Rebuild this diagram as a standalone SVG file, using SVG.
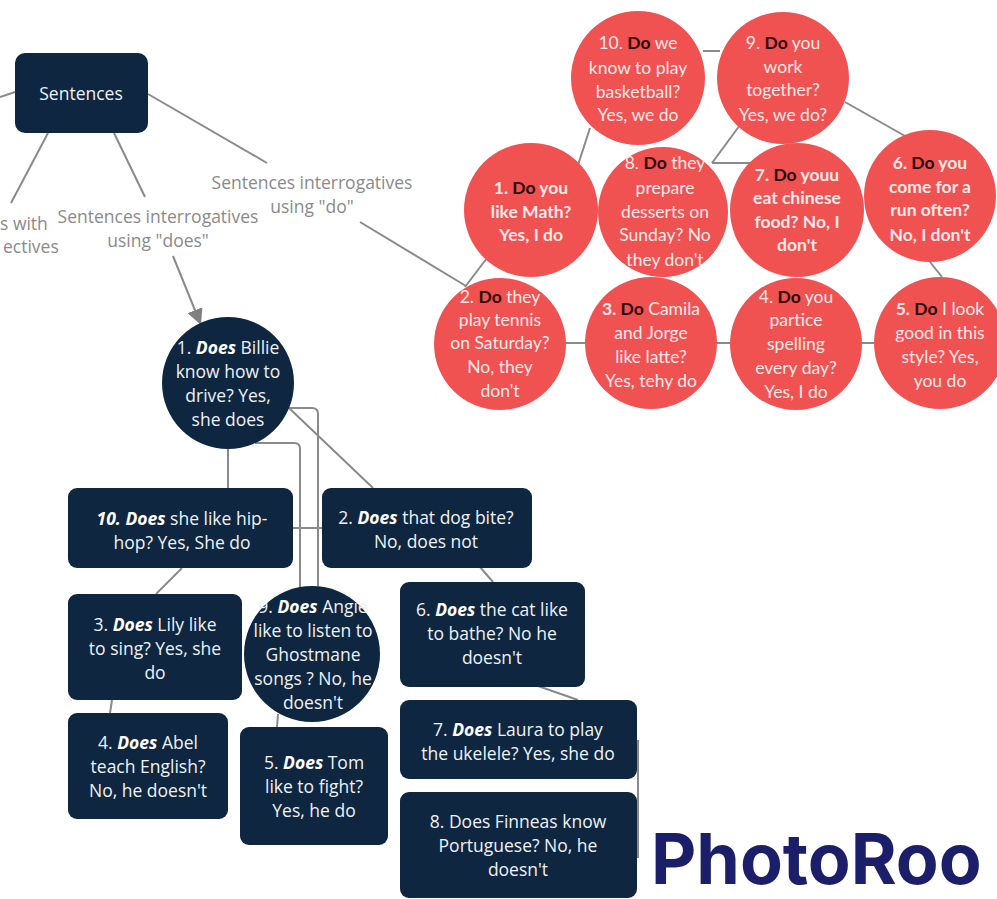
<svg xmlns="http://www.w3.org/2000/svg" width="997" height="899" viewBox="0 0 997 899">
<defs>
<marker id="arr" markerUnits="userSpaceOnUse" markerWidth="18" markerHeight="16" refX="16" refY="8" orient="auto">
<path d="M0,0 L16,8 L0,16 Z" fill="#808080"/>
</marker>
<style>
.c{stroke:#8a8a8a;stroke-width:2;fill:none}
.dk{fill:#0e2640}
.rd{fill:#f05252}
.dt{font-family:"Open Sans","Liberation Sans",sans-serif;font-size:17.5px;fill:#eef2f6;text-anchor:middle}
.rt{font-family:Lato,"Liberation Sans",sans-serif;font-size:17.5px;fill:#fde8e8;text-anchor:middle}
.gl{font-family:"Open Sans","Liberation Sans",sans-serif;font-size:17.5px;fill:#8a8a8a;text-anchor:middle}
.bi{font-weight:bold;font-style:italic;fill:#ffffff}
.b{font-weight:bold}
.do{font-weight:bold;fill:#2a0606}
</style>
</defs>
<rect width="997" height="899" fill="#ffffff"/>
<g id="connectors">
<line class="c" x1="15" y1="92" x2="0" y2="97"/>
<line class="c" x1="48" y1="133" x2="11" y2="203"/>
<line class="c" x1="114" y1="133" x2="145" y2="197"/>
<line class="c" x1="148" y1="94" x2="267" y2="163"/>
<line class="c" x1="360" y1="222" x2="466" y2="286"/>
<line class="c" x1="173" y1="256" x2="201" y2="325" marker-end="url(#arr)"/>
<line class="c" x1="703" y1="51" x2="720" y2="51"/>
<line class="c" x1="590" y1="128" x2="578" y2="165"/>
<line class="c" x1="845" y1="102" x2="905" y2="136"/>
<line class="c" x1="740" y1="125" x2="712" y2="163"/>
<line class="c" x1="712" y1="163" x2="755" y2="163"/>
<line class="c" x1="487" y1="258" x2="465" y2="287"/>
<line class="c" x1="560" y1="343" x2="588" y2="343"/>
<line class="c" x1="714" y1="343" x2="733" y2="343"/>
<line class="c" x1="859" y1="343" x2="877" y2="343"/>
<line class="c" x1="930" y1="262" x2="942" y2="277"/>
<line class="c" x1="228" y1="449" x2="228" y2="488"/>
<path class="c" d="M255,443 H294 Q300,443 300,449 V588"/>
<path class="c" d="M289,408 H312 Q318,408 318,414 V586"/>
<line class="c" x1="289" y1="408" x2="373" y2="488"/>
<line class="c" x1="293" y1="528" x2="322" y2="528"/>
<line class="c" x1="182" y1="568" x2="156" y2="594"/>
<line class="c" x1="112" y1="700" x2="110" y2="713"/>
<line class="c" x1="278" y1="714" x2="277" y2="727"/>
<line class="c" x1="480" y1="567" x2="493" y2="582"/>
<line class="c" x1="538" y1="686" x2="578" y2="700"/>
<line class="c" x1="638" y1="740" x2="638" y2="858"/>
</g>
<g id="labels">
<text class="gl" x="312" y="189">Sentences interrogatives</text>
<text class="gl" x="312" y="213">using "do"</text>
<text class="gl" x="158" y="223">Sentences interrogatives</text>
<text class="gl" x="158" y="247">using "does"</text>
<text class="gl" x="0" y="230" style="text-anchor:start">s with</text>
<text class="gl" x="3" y="253" style="text-anchor:start">ectives</text>
</g>
<g id="n-sentences">
<rect class="dk" x="15" y="53" width="133" height="80" rx="10"/>
<text class="dt" x="81" y="100">Sentences</text>
</g>
<g id="r10"><circle class="rd" cx="638" cy="78" r="67"/>
<text class="rt" x="638" y="49">10. <tspan class="do">Do</tspan> we</text>
<text class="rt" x="638" y="74">know to play</text>
<text class="rt" x="638" y="98">basketball?</text>
<text class="rt" x="638" y="121">Yes, we do</text></g>
<g id="r9"><circle class="rd" cx="783" cy="78" r="66"/>
<text class="rt" x="783" y="49">9. <tspan class="do">Do</tspan> you</text>
<text class="rt" x="783" y="73">work</text>
<text class="rt" x="783" y="96">together?</text>
<text class="rt" x="783" y="121">Yes, we do?</text></g>
<g id="r1"><circle class="rd" cx="531" cy="210" r="67"/>
<text class="rt b" x="531" y="194">1. <tspan class="do">Do</tspan> you</text>
<text class="rt b" x="531" y="218">like Math?</text>
<text class="rt b" x="531" y="241">Yes, I do</text></g>
<g id="r8"><circle class="rd" cx="663" cy="212" r="65"/>
<text class="rt" x="665" y="169">8. <tspan class="do">Do</tspan> they</text>
<text class="rt" x="665" y="194">prepare</text>
<text class="rt" x="665" y="218">desserts on</text>
<text class="rt" x="665" y="241">Sunday? No</text>
<text class="rt" x="665" y="266">they don't</text></g>
<g id="r7"><circle class="rd" cx="797" cy="210" r="67"/>
<text class="rt b" x="797" y="181">7. <tspan class="do">Do</tspan> youu</text>
<text class="rt b" x="797" y="204">eat chinese</text>
<text class="rt b" x="797" y="228">food? No, I</text>
<text class="rt b" x="797" y="251">don't</text></g>
<g id="r6"><circle class="rd" cx="930" cy="196" r="66"/>
<text class="rt b" x="930" y="169">6. <tspan class="do">Do</tspan> you</text>
<text class="rt b" x="930" y="193">come for a</text>
<text class="rt b" x="930" y="216">run often?</text>
<text class="rt b" x="930" y="241">No, I don't</text></g>
<g id="r2"><circle class="rd" cx="500" cy="344" r="66"/>
<text class="rt" x="500" y="303">2. <tspan class="do">Do</tspan> they</text>
<text class="rt" x="500" y="326">play tennis</text>
<text class="rt" x="500" y="349">on Saturday?</text>
<text class="rt" x="500" y="373">No, they</text>
<text class="rt" x="500" y="397">don't</text></g>
<g id="r3"><circle class="rd" cx="651" cy="343" r="66"/>
<text class="rt" x="651" y="315"><tspan class="b">3. </tspan><tspan class="do">Do</tspan> Camila</text>
<text class="rt" x="651" y="339">and Jorge</text>
<text class="rt" x="651" y="363">like latte?</text>
<text class="rt" x="651" y="387">Yes, tehy do</text></g>
<g id="r4"><circle class="rd" cx="796" cy="344" r="66"/>
<text class="rt" x="796" y="303">4. <tspan class="do">Do</tspan> you</text>
<text class="rt" x="796" y="326">partice</text>
<text class="rt" x="796" y="350">spelling</text>
<text class="rt" x="796" y="374">every day?</text>
<text class="rt" x="796" y="398">Yes, I do</text></g>
<g id="r5"><circle class="rd" cx="940" cy="343" r="66"/>
<text class="rt" x="940" y="315"><tspan class="b">5. </tspan><tspan class="do">Do</tspan> I look</text>
<text class="rt" x="940" y="339">good in this</text>
<text class="rt" x="940" y="363">style? Yes,</text>
<text class="rt" x="940" y="387">you do</text></g>
<g id="d1"><circle class="dk" cx="228" cy="383" r="66"/>
<text class="dt" x="228" y="354">1. <tspan class="bi">Does</tspan> Billie</text>
<text class="dt" x="228" y="378">know how to</text>
<text class="dt" x="228" y="402">drive? Yes,</text>
<text class="dt" x="228" y="426">she does</text></g>
<g id="d10"><rect class="dk" x="68" y="488" width="225" height="80" rx="9"/>
<text class="dt" x="182" y="525"><tspan class="bi">10. Does</tspan> she like hip-</text>
<text class="dt" x="182" y="549">hop? Yes, She do</text></g>
<g id="d2"><rect class="dk" x="322" y="488" width="210" height="80" rx="9"/>
<text class="dt" x="426" y="524">2. <tspan class="bi">Does</tspan> that dog bite?</text>
<text class="dt" x="426" y="548">No, does not</text></g>
<g id="d6"><rect class="dk" x="400" y="582" width="185" height="105" rx="9"/>
<text class="dt" x="492" y="616">6. <tspan class="bi">Does</tspan> the cat like</text>
<text class="dt" x="492" y="640">to bathe? No he</text>
<text class="dt" x="492" y="664">doesn't</text></g>
<g id="d3"><rect class="dk" x="68" y="594" width="174" height="106" rx="9"/>
<text class="dt" x="155" y="631">3. <tspan class="bi">Does</tspan> Lily like</text>
<text class="dt" x="155" y="655">to sing? Yes, she</text>
<text class="dt" x="155" y="679">do</text></g>
<g id="d9"><circle class="dk" cx="312" cy="654" r="68"/>
<text class="dt" x="313" y="613">9. <tspan class="bi">Does</tspan> Angie</text>
<text class="dt" x="313" y="637">like to listen to</text>
<text class="dt" x="313" y="661">Ghostmane</text>
<text class="dt" x="313" y="685">songs ? No, he</text>
<text class="dt" x="313" y="709">doesn't</text></g>
<g id="d4"><rect class="dk" x="68" y="713" width="160" height="106" rx="9"/>
<text class="dt" x="148" y="749">4. <tspan class="bi">Does</tspan> Abel</text>
<text class="dt" x="148" y="773">teach English?</text>
<text class="dt" x="148" y="797">No, he doesn't</text></g>
<g id="d5"><rect class="dk" x="240" y="727" width="148" height="118" rx="9"/>
<text class="dt" x="314" y="769">5. <tspan class="bi">Does</tspan> Tom</text>
<text class="dt" x="314" y="793">like to fight?</text>
<text class="dt" x="314" y="817">Yes, he do</text></g>
<g id="d7"><rect class="dk" x="400" y="700" width="237" height="79" rx="9"/>
<text class="dt" x="518" y="736">7. <tspan class="bi">Does</tspan> Laura to play</text>
<text class="dt" x="518" y="760">the ukelele? Yes, she do</text></g>
<g id="d8"><rect class="dk" x="400" y="792" width="237" height="106" rx="9"/>
<text class="dt" x="518" y="828">8. Does Finneas know</text>
<text class="dt" x="518" y="852">Portuguese? No, he</text>
<text class="dt" x="518" y="876">doesn't</text></g>
<text x="651" y="884" font-family="Inter,'Liberation Sans',sans-serif" font-weight="bold" font-size="70" fill="#1b1f6a">PhotoRoo</text>
</svg>
